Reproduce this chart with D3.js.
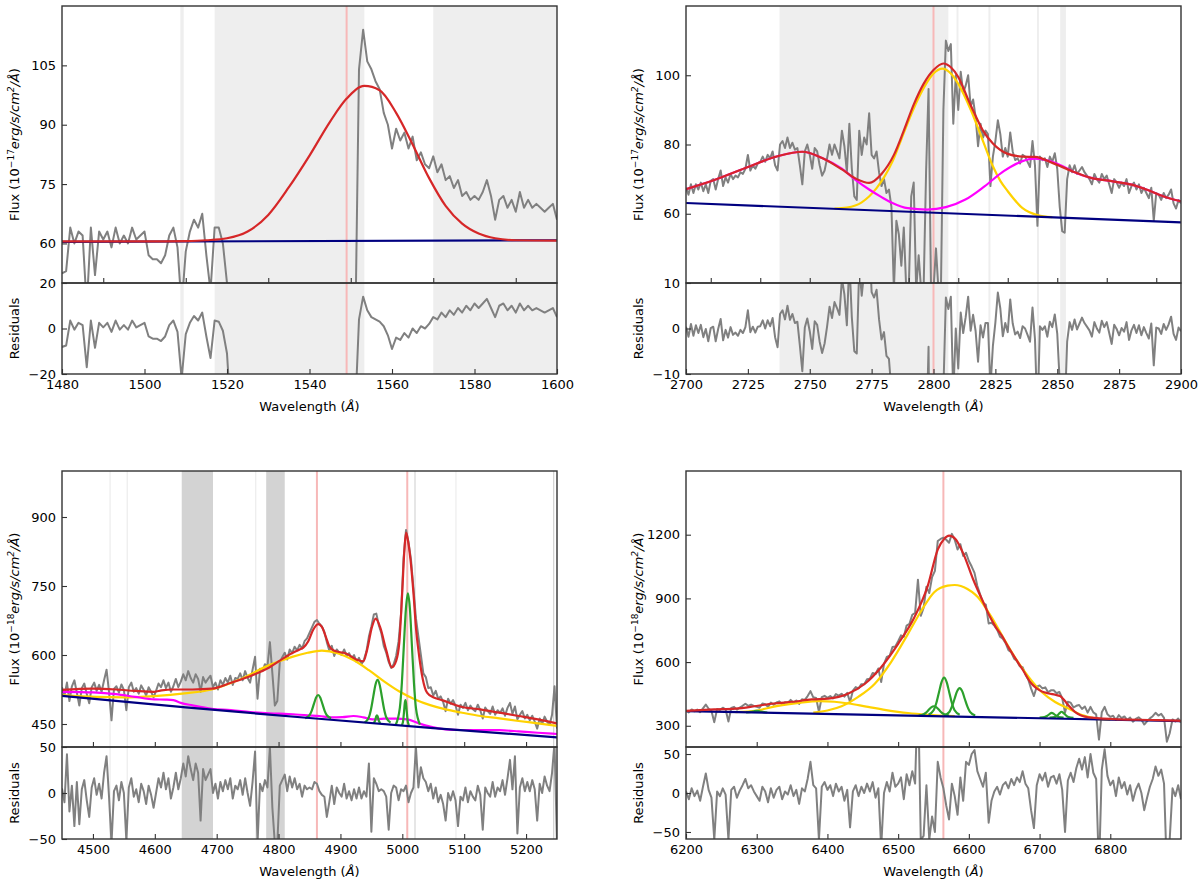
<!DOCTYPE html>
<html>
<head>
<meta charset="utf-8">
<script src="https://cdn.jsdelivr.net/npm/d3@7"></script>
<style>
  body { margin: 0; background: #fff; }
  svg { display: block; font-family: "DejaVu Sans", sans-serif; }
</style>
</head>
<body>
<div id="chart"></div>
<script>
// ================= DATA =================

// ---- C IV panel ----
const civWaveStart = 1480, civWaveStep = 1;
const civFlux = [
  52.4, 53, 64, 60, 63, 62, 44, 64, 52, 63,
  61, 63, 59, 64, 60, 62, 60, 64, 61, 62,
  63, 57, 56, 56, 55, 57, 62, 64, 59, 44,
  58, 63, 66, 64, 67.5, 57, 48, 64, 64, 60,
  50, 20, 20, 20, 20, 20, 20, 20, 20, 20,
  20, 20, 20, 20, 20, 20, 20, 20, 20, 20,
  20, 20, 20, 20, 20, 20, 20, 20, 20, 20,
  20, 30, 104, 114, 106, 104, 101, 99, 93, 90,
  84, 89, 86, 88, 84, 87, 81, 83, 80, 79,
  82, 78, 80, 76, 77, 74, 76, 72, 73, 71,
  72, 71, 73, 76, 72, 66, 71, 72, 69, 71,
  68, 73, 69, 71, 69, 70, 69, 68, 69, 70,
  66
];
const civResid = [
  -8.1, -7.5, 3.5, -0.5, 2.5, 1.5, -17, 3.5, -8.5, 2.5,
  0.5, 2.5, -1.5, 3.5, -0.5, 1.5, -0.5, 3.5, 0.5, 1.5,
  2.5, -3.5, -4.5, -4.5, -5.5, -3.5, 1.5, 3.5, -1.5, -22,
  -2.5, 2.5, 5.5, 3.5, 7, -3.5, -13, 3.5, 3, -1,
  -11, -40, -40, -40, -40, -40, -40, -40, -40, -40,
  -40, -40, -40, -40, -40, -40, -40, -40, -40, -40,
  -40, -40, -40, -40, -40, -40, -40, -40, -40, -40,
  -40, -40, 4, 14, 8, 5, 4, 3, 1, -3,
  -9, -4, -5, -2, -4, 0, -2, 1, 0, 2,
  5, 4, 7, 5, 8, 6, 9, 7, 10, 8,
  11, 9, 11, 13, 9, 5, 10, 11, 8, 10,
  7, 11, 8, 10, 8, 9, 8, 7, 8, 9,
  5
];
const civContinuum = [[1480, 60.4], [1600, 60.8]];
const civTotal = [[1480, 60.5], [1500, 60.5], [1510, 60.6], [1515, 60.8], [1520, 61.3], [1525, 63.0],
  [1530, 67.2], [1535, 74.2], [1540, 82.2], [1545, 90.8], [1549, 96.6], [1553.3, 99.8], [1557, 98.7],
  [1561, 93.0], [1565, 85.0], [1569, 76.5], [1573, 69.5], [1577, 65.0], [1581, 62.5], [1585, 61.3],
  [1590, 60.8], [1600, 60.7]];
const civMasks = [[1508.7, 1509.5], [1517, 1553.3], [1570, 1600]];
const civRefLines = [1549];

// ---- Mg II panel ----
const mgWaveStart = 2700, mgWaveStep = 1;
const mgFlux = [
  67.5, 65.5, 68.5, 66, 68.5, 67, 69, 66.5, 68.5, 66,
  69.5, 70, 67, 70, 72.5, 68, 70.5, 69, 71.5, 70,
  71, 70.5, 72, 71.5, 73, 77, 72.5, 74, 73, 74.5,
  75, 76.5, 75, 77, 76, 78, 74, 72.5, 80, 81,
  79, 82, 79, 80.5, 78.5, 79, 74, 68.5, 78, 80,
  77, 73, 79, 78, 74, 71, 72.5, 76, 80, 77,
  80, 78, 76, 84, 79.5, 72, 86, 73, 65, 64,
  84, 77, 82, 80, 89, 77, 76, 78, 72, 68,
  70, 66, 67, 62, 38, 58, 54, 45, 56, 38,
  38, 65, 69, 38, 48, 38, 38, 72, 96, 38,
  38, 50, 38, 38, 90, 110, 107, 109, 86, 100,
  90, 101, 95, 97, 100, 91, 93, 88, 79.5, 86,
  82, 84, 83, 68, 76.5, 81, 87, 83, 76.5, 79,
  76.5, 83.5, 78, 75.5, 76, 74.5, 77, 76.5, 75, 73.5,
  81, 74, 56.5, 76.5, 75.5, 76, 73.5, 76.5, 75, 77.5,
  73, 62, 55, 54.5, 70, 74, 72, 74, 71.5, 72.5,
  73.5, 72, 71, 70, 68.5, 71.5, 70, 69, 71.5, 70,
  71, 68.5, 66, 70, 69, 67.5, 69, 68, 70, 66,
  68, 69, 67, 68.5, 66, 67.5, 66, 64.5, 67.5, 58,
  66, 65.5, 64, 66, 64.5, 65.5, 67, 63, 61.5, 64,
  63
];
const mgResid = [
  0.4, -1.8, 1, -1.6, 0.7, -1, 0.8, -1.9, -0.1, -2.8,
  0.1, 0.4, -2.8, -0.1, 2.1, -2.6, -0.3, -2, 0.3, -1.4,
  -0.9, -1.6, -0.3, -1, 0.3, 4, -0.8, 0.4, -0.9, 0.4,
  0.5, 1.8, 0, 1.8, 0.5, 2.3, -1.9, -4.1, 3.2, 4,
  2, 5, 1.9, 3.2, 1.2, 1.5, -3.7, -9.4, 0.2, 2.2,
  -0.6, -4.5, 1.6, 0.8, -2.9, -5.4, -3.3, 0.4, 4.8, 2.3,
  5.8, 4.5, 3, 11, 7.5, 0.7, 15, 2.5, -5, -5.5,
  13.8, 7.2, 12.6, 10.9, 20, 8, 6.8, 8.5, 2, -2.4,
  -0.8, -6, -6.7, -13.8, -40, -22.5, -28.5, -39.5, -30.5, -50,
  -52, -27, -24.5, -57, -48, -60, -60, -27, -4, -62,
  -63, -52, -65, -65, -13.4, 6.8, 4.3, 7, -15, 0,
  -8.8, 3.5, -1, 2.5, 7, -0.5, 3, -0.5, -7.3, 0.7,
  -2, 1.2, 1.2, -13, -3.8, 1.3, 7.9, 4.4, -1.7, 1.2,
  -0.8, 6.4, 1.1, -1.3, -0.7, -2.1, 0.5, 0, -1.4, -2.9,
  4.6, -2.3, -19.7, 0.5, -0.3, 0.5, -1.8, 1.5, 0.3, 3.1,
  -1.1, -11.8, -18.5, -18.7, -2.9, 1.4, -0.3, 2, -0.2, 1.1,
  2.4, 1.2, 0.4, -0.4, -1.8, 1.4, 0, -0.9, 1.7, 0.3,
  1.4, -1, -3.4, 0.8, -0.1, -1.5, 0.1, -0.7, 1.4, -2.5,
  -0.4, 0.8, -1, 0.7, -1.5, 0.3, -1, -2.2, 1.1, -8.1,
  0.2, 0, -1.2, 1, -0.3, 0.9, 2.6, -1.2, -2.5, 0.2,
  -0.6
];
const mgContinuum = [[2700, 63.1], [2900, 57.5]];
const mgTotal = [[2700, 67.1], [2712, 69.9], [2724, 73.2], [2737, 76.6], [2747, 77.9], [2755, 76.1],
  [2763, 72.8], [2769, 70], [2774, 68.9], [2779, 71.5], [2784, 77], [2788, 84], [2792, 91.5],
  [2796, 97.5], [2800, 101.5], [2804, 103.4], [2807, 102.3], [2810, 99.5], [2814, 93], [2817, 88.3],
  [2820, 84], [2824, 80.3], [2830, 77.3], [2836, 76.5], [2841, 76.4], [2848, 74.7], [2856, 72.3],
  [2864, 70.3], [2872, 69.4], [2880, 68.4], [2886, 67], [2893, 65], [2900, 63.6]];
const mgBroad = [[2760, 61.5], [2765, 61.8], [2771, 63.3], [2777, 67.4], [2780, 70.5], [2783.5, 75.2],
  [2787, 81.5], [2790, 87], [2794, 93.5], [2797, 97.5], [2800, 100.5], [2803.6, 101.9], [2807, 100.5],
  [2810, 97.5], [2815, 90.1], [2820, 81], [2824, 73.7], [2827, 69.5], [2830, 66.5], [2836, 61.6],
  [2842, 59.6], [2848, 59]];
const mgFe = [[2700, 67.1], [2712, 69.9], [2724, 73.2], [2737, 76.6], [2747, 77.9], [2755, 76.1],
  [2763, 73], [2769, 69.5], [2774, 67], [2779, 64.8], [2783.4, 63.1], [2789.6, 61.6], [2797.4, 61.2],
  [2805, 61.9], [2812.9, 64.1], [2820.6, 67.9], [2828.4, 72.3], [2836, 75.2], [2840.8, 75.9],
  [2847, 75.2], [2852, 73.8], [2856, 72.3], [2864, 70.3], [2872, 69.4], [2880, 68.4], [2886, 67],
  [2893, 65], [2900, 63.6]];
const mgMasks = [[2737.8, 2806], [2809.3, 2810.1], [2822.2, 2823], [2841.8, 2842.6], [2851.2, 2853.5]];
const mgRefLines = [2800];

// ---- H beta panel ----
const hbWaveStart = 4450, hbWaveStep = 4;
const hbFlux = [
  530, 512, 540, 500, 532, 545, 518, 490, 528, 538,
  515, 495, 530, 540, 522, 535, 520, 545, 568, 520,
  458, 526, 532, 518, 536, 524, 480, 530, 540, 520,
  528, 516, 534, 524, 512, 530, 520, 508, 522, 538,
  530, 545, 528, 540, 520, 532, 548, 530, 542, 558,
  545, 565, 550, 540, 558, 548, 520, 552, 540, 548,
  555, 530, 540, 525, 545, 535, 550, 540, 555, 535,
  550, 548, 560, 545, 565, 550, 540, 568, 596, 505,
  570, 565, 580, 575, 628, 560, 490, 500, 585, 595,
  605, 590, 612, 604, 618, 610, 622, 614, 630, 636,
  648, 660, 672, 676, 668, 662, 650, 628, 610, 620,
  598, 612, 605, 600, 612, 598, 604, 592, 600, 585,
  594, 580, 590, 608, 640, 662, 688, 690, 665, 648,
  620, 605, 585, 572, 580, 598, 630, 690, 810, 872,
  845, 808, 745, 680, 640, 600, 560, 552, 528, 530,
  512, 522, 505, 510, 498, 478, 505, 494, 502, 490,
  470, 492, 485, 496, 480, 490, 482, 478, 492, 480,
  462, 486, 478, 472, 488, 470, 480, 474, 484, 468,
  485, 496, 472, 488, 460, 470, 478, 462, 470, 458,
  468, 455, 440, 462, 450, 466, 455, 448, 470, 532,
  440
];
const hbResid = [
  5, -10, 42, -20, 8, -36, 12, -34, 4, 14,
  -8, -26, 6, 16, -2, 10, -6, 22, 40, -4,
  -55, 2, 8, -8, 12, 0, -52, 6, 16, -4,
  4, -10, 10, 2, -12, 8, -2, -16, 0, 16,
  6, 22, 4, 16, -6, 6, 22, 4, 16, 32,
  18, 40, 26, 14, 32, 22, -30, 26, 14, 20,
  26, 0, 10, -6, 12, 2, 14, 4, 16, -6,
  8, 4, 14, -2, 16, 0, -14, 12, 45, -55,
  10, 2, 14, 6, 50, -16, -55, -55, 8, 14,
  20, 2, 18, 6, 16, 4, 10, -4, 8, 4,
  6, 4, 12, 10, 2, -2, -4, -26, -10, 8,
  -12, 6, 0, -4, 10, -6, 2, -8, 4, -6,
  6, -6, 2, -4, 32, -42, 16, 10, 2, 4,
  2, -4, -40, 0, 8, 6, -8, 4, 2, 8,
  -10, 0, 6, 50, 6, 28, 16, 12, 2, 10,
  -6, 6, -10, -2, -12, -30, 0, -8, 2, -8,
  -36, -4, -8, 6, -10, 2, -4, -8, 8, -2,
  -40, 6, 0, -4, 12, -4, 6, 2, 14, -2,
  16, 36, 4, 40, -44, 6, 16, 2, 12, 2,
  14, 4, -30, 10, 0, 18, 8, 2, 22, 55,
  -55
];
const hbContinuum = [[4450, 511], [4650, 486], [4850, 463], [5050, 441], [5250, 421]];
const hbTotal = [[4450, 524], [4500, 526.7], [4537, 525], [4568, 522], [4599, 520], [4611, 523],
  [4630, 525], [4661, 525], [4692, 526.7], [4723, 539.7], [4754, 554], [4785, 573], [4816, 599.8],
  [4834, 612], [4840, 616], [4848, 630], [4856, 655], [4864, 667], [4870, 661], [4876, 641],
  [4882, 619], [4890, 609], [4909, 603.4], [4927.5, 589], [4937, 586], [4943, 610.6], [4951, 661],
  [4957, 679], [4964, 661], [4974, 610.6], [4983, 573], [4990, 587], [4995, 625], [5000, 740],
  [5003, 820], [5006, 866], [5009, 850], [5013, 810], [5018, 735], [5022, 660], [5027, 600],
  [5033, 548], [5040, 518], [5050, 508], [5064, 502], [5095, 487.6], [5126, 481.8], [5157, 474.6],
  [5188, 467.4], [5219, 460], [5250, 451.4]];
const hbBroad = [[4450, 513], [4506, 509], [4549, 508], [4599, 510.8], [4648, 516.6], [4692, 525],
  [4735, 545.5], [4785, 578], [4822, 596], [4847, 604.8], [4870, 609.5], [4896.5, 603.4], [4921, 589],
  [4946, 567], [4971, 542], [4996, 520], [5020.6, 503.5], [5045, 491], [5070, 481.8], [5095, 475],
  [5126, 467.4], [5157, 462.3], [5188, 456.5], [5219, 451.4], [5250, 445.7]];
const hbFe = [[4450, 520], [4500, 518.7], [4537, 515], [4568, 509], [4599, 503.5], [4617, 503],
  [4630, 502], [4642, 496], [4661, 490.5], [4692, 483], [4723, 480.4], [4754, 476], [4785, 473],
  [4816, 471.7], [4847, 468.8], [4866, 467.4], [4884, 464.5], [4903, 465], [4921, 467.4], [4937, 464.5],
  [4952, 460], [4971, 461.6], [4989.5, 461.6], [5008, 460], [5027, 451.4], [5045, 444.2], [5070, 438.4],
  [5095, 437], [5126, 437], [5157, 436.5], [5188, 434], [5219, 431], [5250, 428.3]];
const hbNarrowHb = [[4843, 462.6], [4850, 469], [4853.5, 478.6], [4857, 493], [4860.5, 507], [4864, 513],
  [4867.5, 507], [4871, 493], [4874.5, 478.6], [4878, 469], [4885, 462.6]];
const hbOIII4959 = [[4939, 453], [4946, 464.7], [4949.5, 482.5], [4953, 509], [4956.5, 535], [4960, 546],
  [4963.5, 535], [4967, 509], [4970.5, 482.5], [4974, 464.7], [4981, 453]];
const hbOIII4959Wing = [[4953, 452], [4955, 454.3], [4956, 457.5], [4957, 462.3], [4958, 467], [4959, 469],
  [4960, 467], [4961, 462.3], [4962, 457.5], [4963, 454.3], [4965, 452]];
const hbOIII5007 = [[4989.5, 449], [4996, 485], [4999.3, 539.5], [5002.5, 621], [5005.8, 700], [5009, 734],
  [5012.3, 700], [5015.5, 621], [5018.8, 539.5], [5022, 485], [5028.5, 449]];
const hbOIII5007Wing = [[4999, 447.6], [5001, 454], [5002, 465], [5003, 480], [5004, 495.5], [5005, 502],
  [5006, 495.5], [5007, 480], [5008, 465], [5009, 454], [5011, 447.6]];
const hbMaskLight = [[4526.8, 4528.6], [4554.5, 4556.3], [4762.2, 4764], [5085.8, 5087.6]];
const hbMaskDark = [[4643.5, 4694], [4780, 4810], [5019.6, 5021.4], [5243.6, 5245.6]];
const hbRefLines = [4862, 5008];

// ---- H alpha panel ----
const haWaveStart = 6200, haWaveStep = 4;
const haFlux = [
  372, 363, 377, 368, 376, 364, 382, 400, 380, 370,
  317, 379, 374, 385, 377, 320, 384, 389, 376, 386,
  394, 404, 394, 400, 394, 389, 385, 405, 401, 389,
  409, 399, 410, 415, 400, 411, 409, 422, 409, 419,
  403, 425, 422, 440, 463, 434, 431, 366, 435, 441,
  432, 440, 429, 449, 442, 451, 437, 455, 412, 465,
  482, 476, 496, 496, 519, 522, 549, 544, 570, 506,
  592, 624, 630, 671, 673, 698, 726, 719, 772, 780,
  823, 832, 988, 818, 855, 955, 925, 1000, 1030, 1170,
  1180, 1186, 1176, 1162, 1204, 1176, 1130, 1155, 1100, 1115,
  1076, 1050, 1020, 958, 918, 878, 871, 782, 785, 772,
  753, 720, 710, 689, 656, 646, 616, 605, 580, 576,
  542, 518, 475, 440, 484, 490, 476, 481, 458, 467,
  467, 453, 459, 430, 362, 413, 409, 386, 394, 398,
  379, 391, 362, 389, 363, 354, 235, 364, 389, 354,
  342, 347, 327, 350, 336, 344, 327, 339, 319, 332,
  340, 328, 306, 321, 335, 345, 361, 348, 356, 337,
  225, 265, 330, 320, 334, 315
];
const haResid = [
  2, -8, 6, -4, 3, -10, 8, 25, 4, -6,
  -60, 2, -4, 6, -2, -60, 4, 8, -6, 3,
  10, 18, 6, 10, 2, -4, -10, 8, 2, -12,
  6, -6, 4, 8, -8, 2, -2, 10, -4, 4,
  -14, 6, 2, 18, 40, 10, 6, -60, 8, 14,
  4, 10, -4, 12, 2, 8, -10, 4, -44, 2,
  10, -4, 8, 0, 12, 2, 14, -6, 6, -70,
  0, 14, 2, 26, 8, 12, 20, -8, 24, 10,
  28, 12, 140, -60, -55, 10, -60, -30, -50, 40,
  20, 6, -16, -34, 12, -4, -28, 20, -10, 40,
  36, 50, 55, 28, 18, 8, 26, -38, -10, 2,
  8, -2, 10, 14, 6, 18, 10, 20, 14, 28,
  12, 6, -22, -45, 10, 24, 16, 26, 8, 20,
  22, 12, 24, 4, -50, 16, 26, 14, 32, 44,
  30, 46, 20, 50, 26, 18, -100, 30, 56, 22,
  10, 16, -4, 20, 6, 14, -2, 10, -10, 4,
  12, 0, -22, -6, 8, 18, 34, 22, 30, 12,
  -100, -60, 6, -4, 10, -8
];
const haContinuum = [[6200, 369], [6900, 322]];
const haTotal = [[6200, 370], [6240, 377], [6270, 381], [6297, 392], [6324, 405], [6351, 413],
  [6378, 424], [6401, 428], [6429, 451], [6453, 498], [6476, 576], [6500, 686], [6523, 811],
  [6542, 960], [6556, 1130], [6565, 1180], [6572, 1196], [6581, 1180], [6592, 1112], [6606, 990],
  [6622, 870], [6630, 812], [6638, 765], [6647, 722], [6655, 675], [6666, 616], [6676, 565],
  [6687, 505], [6695, 478], [6703, 462], [6713, 452], [6722, 446], [6729, 440], [6735, 420],
  [6741, 395], [6750, 366], [6758, 350], [6774, 338], [6812, 330], [6866, 327], [6900, 323]];
const haBroad = [[6380, 362], [6400, 372], [6420, 392], [6443, 435], [6467, 498], [6490, 600],
  [6514, 733], [6533, 843], [6551, 929], [6570, 960], [6580, 963], [6598, 944], [6617, 889],
  [6625, 848], [6636, 790], [6647, 725], [6666, 618], [6685, 528], [6703, 459], [6722, 412],
  [6741, 381], [6760, 350], [6779, 334], [6800, 328]];
const haBroadBlue = [[6270, 364], [6300, 372], [6330, 394], [6360, 408], [6388, 416], [6410, 413],
  [6430, 405], [6455, 390], [6483, 374], [6514, 360], [6542, 352], [6580, 345]];
const haOI6300 = [[6285, 363.3], [6292, 365.5], [6296, 368.5], [6300, 370.5], [6304, 368.5],
  [6308, 365.5], [6315, 362.5]];
const haNII6548 = [[6529, 348], [6536, 354], [6539.5, 362], [6543.2, 375], [6546.8, 387], [6550.5, 392],
  [6554.2, 387], [6557.8, 375], [6561.5, 362], [6565, 354], [6572, 348]];
const haNarrowHa = [[6543, 352], [6550.4, 374], [6554, 407], [6557.7, 457], [6561.4, 506], [6565, 527],
  [6568.6, 506], [6572.3, 457], [6576, 407], [6579.6, 374], [6587, 352]];
const haNII6583 = [[6565, 349], [6572.4, 365], [6576, 390], [6579.7, 426], [6583.3, 462], [6587, 477],
  [6590.7, 462], [6594.3, 426], [6598, 390], [6601.6, 365], [6609, 348]];
const haSII6716 = [[6700, 338], [6707, 341], [6710.5, 346], [6714, 355], [6717, 361], [6720.5, 355],
  [6724, 346], [6727, 341], [6734, 338]];
const haSII6731 = [[6714, 338], [6721, 341], [6724.5, 347], [6728, 358], [6731, 366], [6734.5, 358],
  [6738, 347], [6741, 341], [6748, 337]];
const haRefLines = [6564];

// ================= STYLE / LAYOUT =================
const RED = "#d62728", NAVY = "#000080", GOLD = "#ffd200", MAGENTA = "#ff00ff",
      GREEN = "#2ca02c", DATA = "#808080", FRAME = "#333333", REFLINE = "#f7b8b8";

const panels = [
  {
    id: "civ", left: 62, right: 557, top: 6, sep: 283, bottom: 374,
    xDomain: [1480, 1600], yDomain: [50, 120], resDomain: [-20, 20],
    yTicks: [60, 75, 90, 105], resTicks: [-20, 0, 20],
    xTicksTop: [1490, 1510, 1530, 1550, 1570, 1590],
    xTicks: [1480, 1500, 1520, 1540, 1560, 1580, 1600],
    exponent: "\u221217",
    waveStart: civWaveStart, waveStep: civWaveStep, flux: civFlux, resid: civResid,
    masks: [{ spans: civMasks, color: "#eeeeee" }],
    refLines: civRefLines,
    curves: [
      { data: civContinuum, color: NAVY },
      { data: civTotal, color: RED }
    ]
  },
  {
    id: "mg", left: 686, right: 1181, top: 6, sep: 283, bottom: 374,
    xDomain: [2700, 2900], yDomain: [40, 120], resDomain: [-10, 10],
    yTicks: [60, 80, 100], resTicks: [-10, 0, 10],
    xTicksTop: [2710, 2730, 2750, 2770, 2790, 2810, 2830, 2850, 2870, 2890],
    xTicks: [2700, 2725, 2750, 2775, 2800, 2825, 2850, 2875, 2900],
    exponent: "\u221217",
    waveStart: mgWaveStart, waveStep: mgWaveStep, flux: mgFlux, resid: mgResid,
    masks: [{ spans: mgMasks, color: "#eeeeee" }],
    refLines: mgRefLines,
    curves: [
      { data: mgBroad, color: GOLD },
      { data: mgFe, color: MAGENTA },
      { data: mgContinuum, color: NAVY },
      { data: mgTotal, color: RED }
    ]
  },
  {
    id: "hb", left: 62, right: 557, top: 471, sep: 747, bottom: 839,
    xDomain: [4450, 5250], yDomain: [400, 1000], resDomain: [-50, 50],
    yTicks: [450, 600, 750, 900], resTicks: [-50, 0, 50],
    xTicksTop: [4500, 4600, 4700, 4800, 4900, 5000, 5100, 5200],
    xTicks: [4500, 4600, 4700, 4800, 4900, 5000, 5100, 5200],
    exponent: "\u221218",
    waveStart: hbWaveStart, waveStep: hbWaveStep, flux: hbFlux, resid: hbResid,
    masks: [{ spans: hbMaskLight, color: "#ebebeb" }, { spans: hbMaskDark, color: "#d3d3d3" }],
    refLines: hbRefLines,
    curves: [
      { data: hbBroad, color: GOLD },
      { data: hbFe, color: MAGENTA },
      { data: hbNarrowHb, color: GREEN },
      { data: hbOIII4959, color: GREEN },
      { data: hbOIII4959Wing, color: GREEN },
      { data: hbOIII5007, color: GREEN },
      { data: hbOIII5007Wing, color: GREEN },
      { data: hbContinuum, color: NAVY },
      { data: hbTotal, color: RED }
    ]
  },
  {
    id: "ha", left: 686, right: 1181, top: 471, sep: 747, bottom: 839,
    xDomain: [6200, 6900], yDomain: [200, 1500], resDomain: [-59, 59],
    yTicks: [300, 600, 900, 1200], resTicks: [-50, 0, 50],
    xTicksTop: [6300, 6400, 6500, 6600, 6700, 6800],
    xTicks: [6200, 6300, 6400, 6500, 6600, 6700, 6800],
    exponent: "\u221218",
    waveStart: haWaveStart, waveStep: haWaveStep, flux: haFlux, resid: haResid,
    masks: [],
    refLines: haRefLines,
    curves: [
      { data: haBroadBlue, color: GOLD },
      { data: haBroad, color: GOLD },
      { data: haOI6300, color: GREEN },
      { data: haNII6548, color: GREEN },
      { data: haNarrowHa, color: GREEN },
      { data: haNII6583, color: GREEN },
      { data: haSII6716, color: GREEN },
      { data: haSII6731, color: GREEN },
      { data: haContinuum, color: NAVY },
      { data: haTotal, color: RED }
    ]
  }
];

// ================= DRAWING =================
const svg = d3.select("#chart").append("svg")
  .attr("width", 1200).attr("height", 885)
  .style("background", "#fff");
const defs = svg.append("defs");

function styleAxis(g) {
  g.select(".domain").remove();
  g.selectAll(".tick line").attr("stroke", FRAME).attr("stroke-width", 1.1);
  g.selectAll(".tick text").attr("fill", "#000")
    .attr("font-family", "DejaVu Sans, sans-serif").attr("font-size", 13);
}

function drawPanel(p) {
  const x = d3.scaleLinear().domain(p.xDomain).range([p.left, p.right]);
  const y = d3.scaleLinear().domain(p.yDomain).range([p.sep, p.top]);
  const yr = d3.scaleLinear().domain(p.resDomain).range([p.bottom, p.sep]);
  const g = svg.append("g").attr("class", "panel-" + p.id);

  // clip regions for the two axes
  defs.append("clipPath").attr("id", "clip-all-" + p.id).append("rect")
    .attr("x", p.left).attr("y", p.top).attr("width", p.right - p.left).attr("height", p.bottom - p.top);
  defs.append("clipPath").attr("id", "clip-top-" + p.id).append("rect")
    .attr("x", p.left).attr("y", p.top).attr("width", p.right - p.left).attr("height", p.sep - p.top);
  defs.append("clipPath").attr("id", "clip-res-" + p.id).append("rect")
    .attr("x", p.left).attr("y", p.sep).attr("width", p.right - p.left).attr("height", p.bottom - p.sep);

  // masked wavelength ranges, through both axes
  const bg = g.append("g").attr("clip-path", `url(#clip-all-${p.id})`);
  p.masks.forEach(m => {
    bg.selectAll(null).data(m.spans).enter().append("rect")
      .attr("x", d => x(d[0]))
      .attr("width", d => Math.max(1, x(d[1]) - x(d[0])))
      .attr("y", p.top).attr("height", p.bottom - p.top)
      .attr("fill", m.color);
  });
  bg.selectAll(null).data(p.refLines).enter().append("line")
    .attr("x1", d => x(d)).attr("x2", d => x(d))
    .attr("y1", p.top).attr("y2", p.bottom)
    .attr("stroke", REFLINE).attr("stroke-width", 2);

  const wave = d3.range(p.flux.length).map(i => p.waveStart + i * p.waveStep);

  // spectrum + model in the upper axes
  const top = g.append("g").attr("clip-path", `url(#clip-top-${p.id})`);
  top.append("path")
    .datum(p.flux)
    .attr("fill", "none").attr("stroke", DATA).attr("stroke-width", 2)
    .attr("stroke-linejoin", "round")
    .attr("d", d3.line().x((d, i) => x(wave[i])).y(d => y(d)));

  const modelLine = d3.line().x(d => x(d[0])).y(d => y(d[1])).curve(d3.curveMonotoneX);
  p.curves.forEach(c => {
    top.append("path").datum(c.data)
      .attr("fill", "none").attr("stroke", c.color).attr("stroke-width", 2.2)
      .attr("d", modelLine);
  });

  // residuals
  const res = g.append("g").attr("clip-path", `url(#clip-res-${p.id})`);
  const rwave = d3.range(p.resid.length).map(i => p.waveStart + i * p.waveStep);
  res.append("path")
    .datum(p.resid)
    .attr("fill", "none").attr("stroke", DATA).attr("stroke-width", 2)
    .attr("stroke-linejoin", "round")
    .attr("d", d3.line().x((d, i) => x(rwave[i])).y(d => yr(d)));

  // axes (ticks pointing inward)
  g.append("g").attr("transform", `translate(${p.left},0)`)
    .call(d3.axisLeft(y).tickValues(p.yTicks).tickSize(-5).tickPadding(6).tickFormat(d3.format("d")))
    .call(styleAxis);
  g.append("g").attr("transform", `translate(${p.left},0)`)
    .call(d3.axisLeft(yr).tickValues(p.resTicks).tickSize(-5).tickPadding(6).tickFormat(d3.format("d")))
    .call(styleAxis);
  g.append("g").attr("transform", `translate(0,${p.sep})`)
    .call(d3.axisBottom(x).tickValues(p.xTicksTop).tickSize(-5).tickFormat(""))
    .call(styleAxis);
  g.append("g").attr("transform", `translate(0,${p.bottom})`)
    .call(d3.axisBottom(x).tickValues(p.xTicks).tickSize(-5).tickPadding(5.5).tickFormat(d3.format("d")))
    .call(styleAxis);

  // frames
  [[p.top, p.sep], [p.sep, p.bottom]].forEach(([a, b]) => {
    g.append("rect").attr("x", p.left).attr("y", a)
      .attr("width", p.right - p.left).attr("height", b - a)
      .attr("fill", "none").attr("stroke", FRAME).attr("stroke-width", 1.4);
  });

  // labels
  const fl = g.append("text")
    .attr("transform", `translate(${p.left - 48},${(p.top + p.sep) / 2}) rotate(-90)`)
    .attr("text-anchor", "middle").attr("dy", "0.35em")
    .attr("font-size", 13).attr("fill", "#000");
  fl.append("tspan").text("Flux (10");
  fl.append("tspan").attr("baseline-shift", "super").attr("font-size", 9).text(p.exponent);
  fl.append("tspan").attr("font-style", "italic").text("erg/s/cm");
  fl.append("tspan").attr("baseline-shift", "super").attr("font-size", 9).attr("font-style", "italic").text("2");
  fl.append("tspan").attr("font-style", "italic").text("/\u00c5");
  fl.append("tspan").text(")");

  g.append("text")
    .attr("transform", `translate(${p.left - 47.5},${(p.sep + p.bottom) / 2}) rotate(-90)`)
    .attr("text-anchor", "middle").attr("dy", "0.35em")
    .attr("font-size", 13).attr("fill", "#000")
    .text("Residuals");

  const xl = g.append("text")
    .attr("x", (p.left + p.right) / 2).attr("y", p.bottom + 37)
    .attr("text-anchor", "middle").attr("font-size", 13).attr("fill", "#000");
  xl.append("tspan").text("Wavelength (");
  xl.append("tspan").attr("font-style", "italic").text("\u00c5");
  xl.append("tspan").text(")");
}

panels.forEach(drawPanel);
</script>
</body>
</html>
